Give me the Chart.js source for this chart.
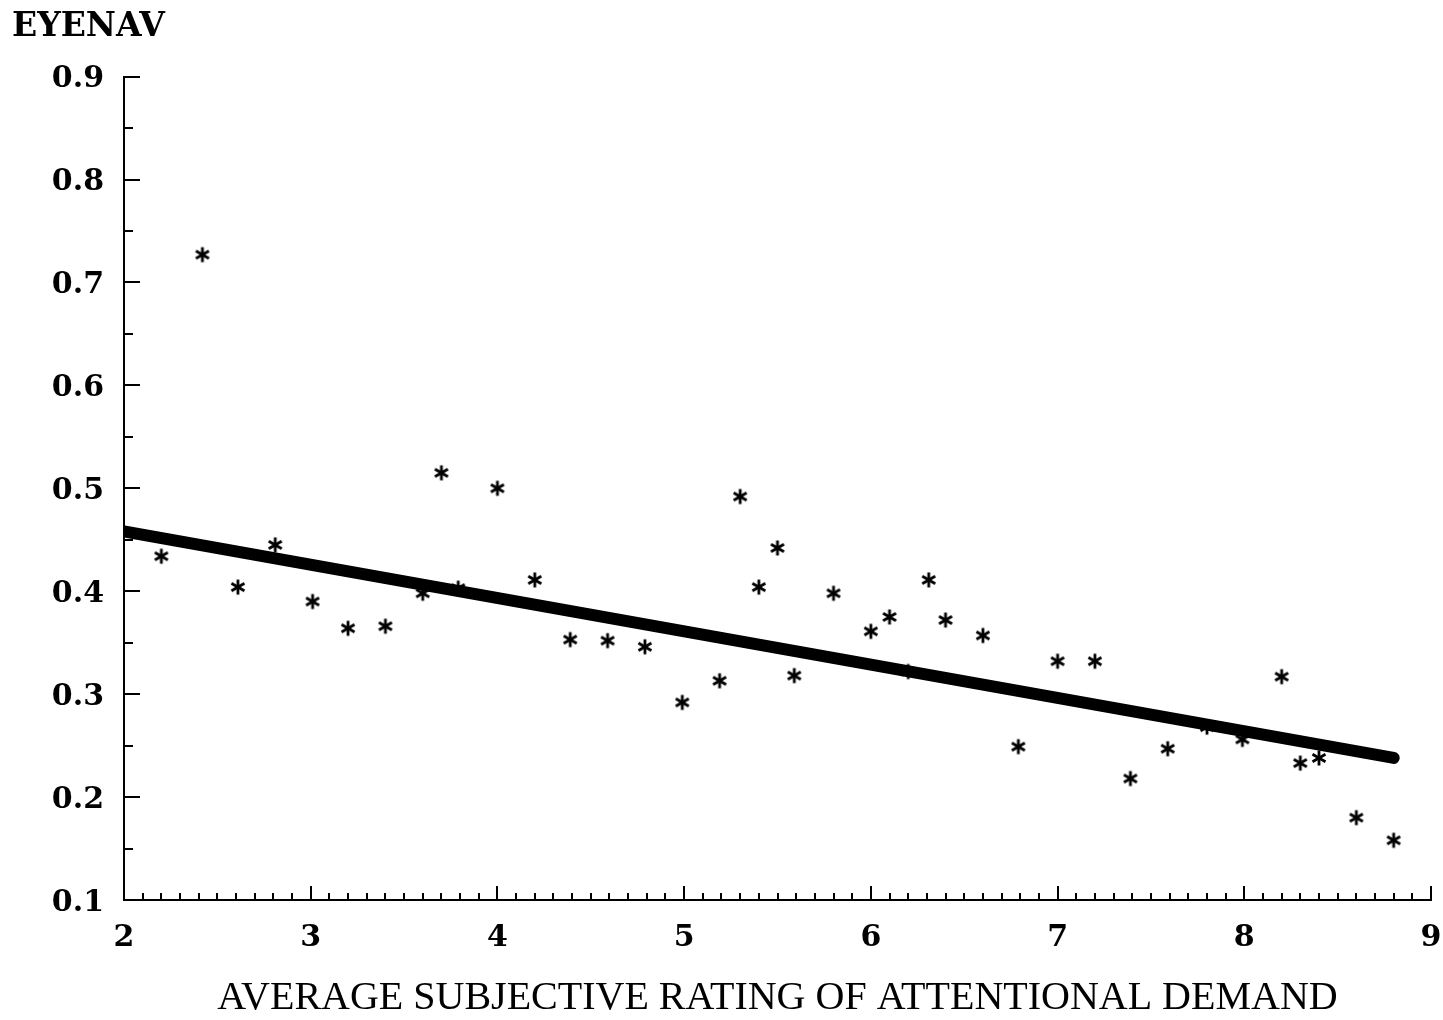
<!DOCTYPE html>
<html>
<head>
<meta charset="utf-8">
<script src="https://cdn.jsdelivr.net/npm/chart.js@4"></script>
<style>
  html, body { margin: 0; padding: 0; background: #fff; }
  #wrap { width: 1443px; height: 1020px; }
</style>
</head>
<body>
<div id="wrap"><canvas id="c" width="1443" height="1020"></canvas></div>
<script>
// Average subjective rating of attentional demand (x) vs EYENAV (y)
const ratings = [2.2, 2.42, 2.61, 2.81, 3.01, 3.2, 3.4, 3.6, 3.7, 3.79,
                 4.0, 4.2, 4.39, 4.59, 4.79, 4.99, 5.19, 5.3, 5.4, 5.5,
                 5.59, 5.8, 6.0, 6.1, 6.2, 6.31, 6.4, 6.6, 6.79, 7.0,
                 7.2, 7.39, 7.59, 7.8, 7.99, 8.2, 8.3, 8.4, 8.6, 8.8];
const eyenav  = [0.434, 0.727, 0.404, 0.445, 0.390, 0.364, 0.366, 0.398, 0.515, 0.403,
                 0.500, 0.411, 0.353, 0.352, 0.346, 0.292, 0.313, 0.492, 0.404, 0.442,
                 0.318, 0.398, 0.361, 0.375, 0.322, 0.411, 0.372, 0.357, 0.249, 0.332,
                 0.332, 0.218, 0.247, 0.268, 0.256, 0.317, 0.233, 0.238, 0.180, 0.158];

// Fitted regression line endpoints
const fitX = [2.0, 8.8];
const fitY = [0.458, 0.238];

// Axis tick labels
const xTickLabels = [2, 3, 4, 5, 6, 7, 8, 9];
const yTickLabels = [0.1, 0.2, 0.3, 0.4, 0.5, 0.6, 0.7, 0.8, 0.9];

// Six-armed asterisk marker
function makeAsterisk() {
  const s = 20, c = document.createElement('canvas');
  c.width = s; c.height = s;
  const g = c.getContext('2d');
  g.strokeStyle = '#000';
  g.lineWidth = 2.8;
  const r = 7.5;
  [90, 30, 150].forEach(deg => {
    const a = deg * Math.PI / 180;
    g.beginPath();
    g.moveTo(s / 2 - r * Math.cos(a), s / 2 - r * Math.sin(a));
    g.lineTo(s / 2 + r * Math.cos(a), s / 2 + r * Math.sin(a));
    g.stroke();
  });
  return c;
}
const asterisk = makeAsterisk();

// Inward tick marks drawn against the chart's own scales
const inwardTicks = {
  id: 'inwardTicks',
  afterDraw(chart) {
    const { ctx, chartArea, scales } = chart;
    const xs = scales.x, ys = scales.y;
    ctx.save();
    ctx.strokeStyle = '#000';
    ctx.lineWidth = 2;
    ctx.beginPath();
    for (let i = 21; i <= 90; i++) {
      const v = i / 10;
      const px = Math.round(xs.getPixelForValue(v));
      const len = (i % 10 === 0) ? 14 : 7;
      ctx.moveTo(px, chartArea.bottom);
      ctx.lineTo(px, chartArea.bottom - len);
    }
    for (let i = 3; i <= 18; i++) {
      const v = i / 20;
      const py = Math.round(ys.getPixelForValue(v));
      const len = (i % 2 === 0) ? 16 : 9;
      ctx.moveTo(chartArea.left, py);
      ctx.lineTo(chartArea.left + len, py);
    }
    ctx.stroke();
    ctx.restore();
  }
};

const tickFont = { family: 'DejaVu Serif', weight: 'bold', size: 30 };

new Chart(document.getElementById('c'), {
  type: 'scatter',
  data: {
    datasets: [
      {
        type: 'line',
        data: fitX.map((x, i) => ({ x, y: fitY[i] })),
        borderColor: '#000',
        borderWidth: 12,
        borderCapStyle: 'round',
        pointRadius: 0,
        fill: false,
        order: 0
      },
      {
        data: ratings.map((x, i) => ({ x, y: eyenav[i] })),
        pointStyle: asterisk,
        pointRadius: 10,
        order: 1
      }
    ]
  },
  options: {
    responsive: false,
    animation: false,
    devicePixelRatio: 1,
    layout: { padding: { left: 12, right: 12, top: 0, bottom: 0 } },
    plugins: {
      legend: { display: false },
      tooltip: { enabled: false },
      title: {
        display: true,
        text: 'EYENAV',
        align: 'start',
        color: '#000',
        font: { family: 'DejaVu Serif', weight: 'bold', size: 33, lineHeight: 1.2 },
        padding: { top: 8, bottom: 29 }
      }
    },
    scales: {
      x: {
        type: 'linear',
        min: 2, max: 9,
        afterBuildTicks(scale) { scale.ticks = xTickLabels.map(v => ({ value: v })); },
        afterFit(scale) { scale.height = 120; scale.paddingLeft = 0; scale.paddingRight = 0; },
        grid: { display: false, drawTicks: false },
        border: { display: true, color: '#000', width: 2 },
        ticks: {
          color: '#000',
          font: tickFont,
          padding: 20,
          maxRotation: 0,
          autoSkip: false,
          callback: v => String(v)
        },
        title: {
          display: true,
          text: 'AVERAGE SUBJECTIVE RATING OF ATTENTIONAL DEMAND',
          color: '#000',
          font: { family: 'Liberation Serif', size: 40, lineHeight: 1.0 },
          padding: { top: 0, bottom: 2 }
        }
      },
      y: {
        type: 'linear',
        min: 0.1, max: 0.9,
        afterBuildTicks(scale) { scale.ticks = yTickLabels.map(v => ({ value: v })); },
        afterFit(scale) { scale.width = 112; scale.paddingTop = 0; scale.paddingBottom = 0; },
        grid: { display: false, drawTicks: false },
        border: { display: true, color: '#000', width: 2 },
        ticks: {
          color: '#000',
          font: tickFont,
          padding: 20,
          labelOffset: 3,
          callback: v => v.toFixed(1)
        }
      }
    }
  },
  plugins: [inwardTicks]
});
</script>
</body>
</html>
